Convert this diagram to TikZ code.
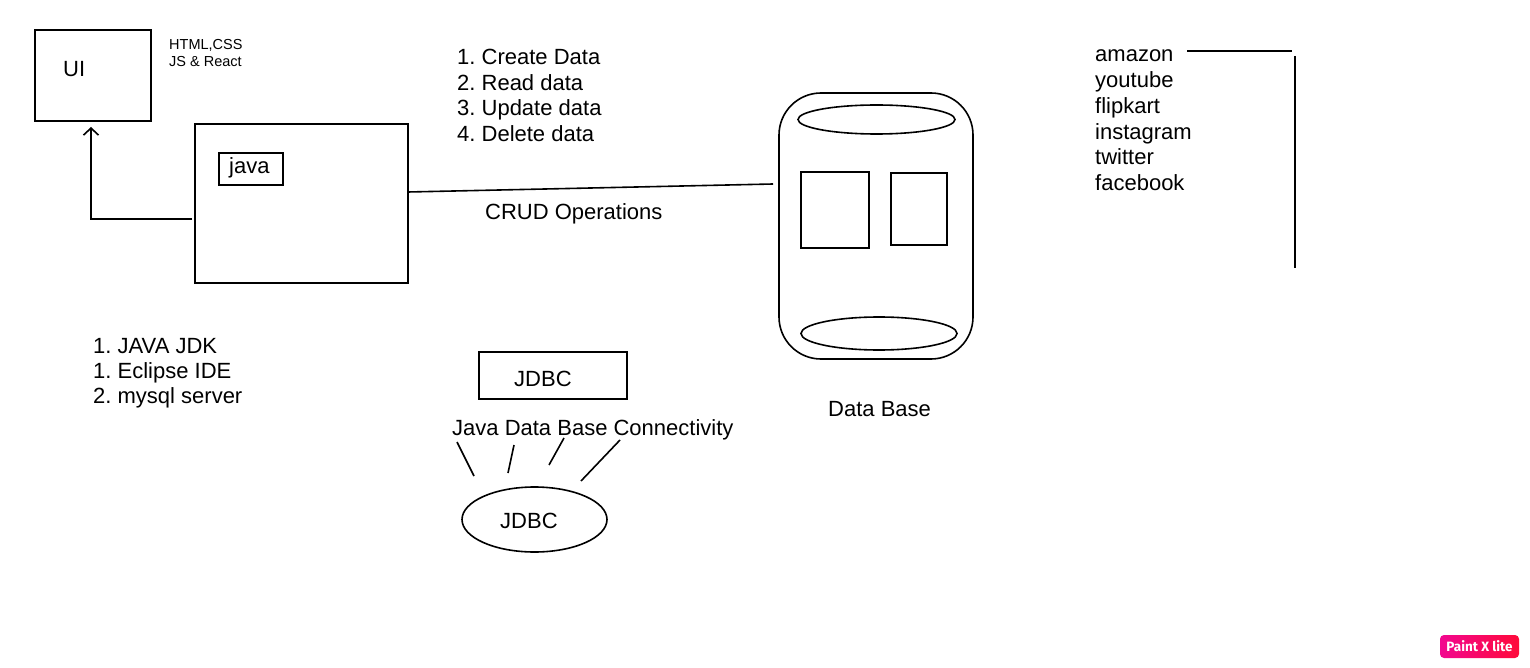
\documentclass[tikz,border=0pt]{standalone}
\usepackage{fontspec}
\setmainfont{Liberation Sans}
\newfontfamily\wmfont{Fira Sans}
\usetikzlibrary{shapes.geometric,arrows.meta}
\frenchspacing
\tikzset{
  ln/.style={line width=1.6pt, black},
  boxn/.style={draw, ln, inner sep=0pt},
  txt/.style={inner sep=0pt, anchor=base west, font=\fontsize{22}{26}\selectfont},
  smalltxt/.style={inner sep=0pt, anchor=base west, font=\fontsize{14.5}{17}\selectfont},
  ell/.style={draw, ln, ellipse, inner sep=0pt},
}
\begin{document}
\frenchspacing
\begin{tikzpicture}[x=1pt,y=-1pt]
\useasboundingbox (0,0) rectangle (1530,668);
% UI box
\node[boxn, minimum width=116pt, minimum height=91pt] (ui) at (93,75.5) {};
\node[txt] (uitxt) at (63,77) {UI};
\node[smalltxt] (html) at (169,50) {HTML,CSS};
\node[smalltxt] (js) at (169,67) {JS \& React};
% java box
\node[boxn, minimum width=213pt, minimum height=159pt] (jbox) at (301.5,203.5) {};
\node[boxn, minimum width=64pt, minimum height=32pt] (java) at (251,169) {};
\node[txt] (javatxt) at (229,174) {java};
% arrow from java box to UI
\coordinate (corner) at (91,219);
\coordinate (jl) at (192,219);
\coordinate (tip) at (91,127);
\draw[ln, -{Straight Barb[length=7pt,width=15pt]}] (jl) -- (corner) -- (tip);
% CRUD list
\node[txt] (c1) at (457,65) {1. Create Data};
\node[txt] (c2) at (457,91) {2. Read data};
\node[txt] (c3) at (457,116) {3. Update data};
\node[txt] (c4) at (457,142) {4. Delete data};
\node[txt] (crud) at (485,220) {CRUD Operations};
% database
\node[boxn, rounded corners=42pt, minimum width=194pt, minimum height=266pt] (db) at (876,226) {};
\node[ell, minimum width=157pt, minimum height=29pt] (dbtop) at (876.5,119.5) {};
\node[ell, minimum width=156pt, minimum height=33pt] (dbbot) at (879,333.5) {};
\node[boxn, minimum width=68pt, minimum height=76pt] (sq1) at (835,210) {};
\node[boxn, minimum width=56pt, minimum height=72pt] (sq2) at (919,209) {};
\node[txt] (dbtxt) at (828,416) {Data Base};
\coordinate (jr) at (408,192);
\coordinate (dl) at (773,184);
\draw[ln] (jr) -- (dl);
% tools list
\node[txt] (t1) at (93,353) {1. JAVA JDK};
\node[txt] (t2) at (93,378) {1. Eclipse IDE};
\node[txt] (t3) at (93,403) {2. mysql server};
% JDBC
\node[boxn, minimum width=148pt, minimum height=47pt] (jdbcbox) at (553,375.5) {};
\node[txt] (jdbctxt) at (514,386) {JDBC};
\node[txt] (jdbcfull) at (452,435) {Java Data Base Connectivity};
\node[ell, minimum width=145pt, minimum height=65pt] (jdbcell) at (534.5,519.5) {};
\node[txt] (jdbcelltxt) at (500,528) {JDBC};
\coordinate (a1) at (457,442); \coordinate (b1) at (474,476);
\coordinate (a2) at (514,445); \coordinate (b2) at (508,473);
\coordinate (a3) at (564,438); \coordinate (b3) at (549,465);
\coordinate (a4) at (620,440); \coordinate (b4) at (581,481);
\draw[ln] (a1) -- (b1);
\draw[ln] (a2) -- (b2);
\draw[ln] (a3) -- (b3);
\draw[ln] (a4) -- (b4);
% sites list
\node[txt] (s1) at (1095,62) {amazon};
\node[txt] (s2) at (1095,88) {youtube};
\node[txt] (s3) at (1095,114) {flipkart};
\node[txt] (s4) at (1095,140) {instagram};
\node[txt] (s5) at (1095,165) {twitter};
\node[txt] (s6) at (1095,191) {facebook};
\coordinate (h1) at (1187,51); \coordinate (h2) at (1292,51);
\coordinate (v1) at (1295,56); \coordinate (v2) at (1295,268);
\draw[ln] (h1) -- (h2);
\draw[ln] (v1) -- (v2);
% watermark
\definecolor{wmL}{HTML}{F2078F}
\definecolor{wmR}{HTML}{FF0A3A}
\node[rounded corners=4pt, left color=wmL, right color=wmR, minimum width=79pt, minimum height=23pt, inner sep=0pt, text=white, font=\wmfont\bfseries\fontsize{13.5}{15}\selectfont] (wm) at (1479.5,646.5) {Paint X lite};
\end{tikzpicture}
\end{document}
